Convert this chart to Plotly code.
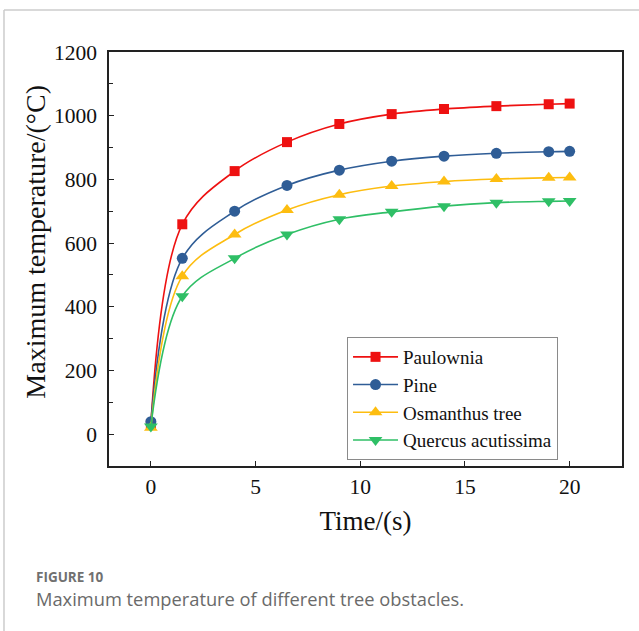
import plotly.graph_objects as go

# Sampling times (s)
time_s = [0, 1.5, 4, 6.5, 9, 11.5, 14, 16.5, 19, 20]

# Maximum temperature (°C) for each tree obstacle
paulownia = [30, 659, 826, 917, 974, 1005, 1021, 1030, 1036, 1038]
pine = [39, 552, 700, 781, 829, 857, 873, 882, 887, 888]
osmanthus = [20, 496, 627, 704, 752, 779, 793, 801, 805, 806]
quercus = [24, 433, 552, 627, 675, 698, 716, 727, 731, 732]

series = [
    ("Paulownia", paulownia, "#ee1111", "square", 10),
    ("Pine", pine, "#2f5d96", "circle", 11),
    ("Osmanthus tree", osmanthus, "#fdbd10", "triangle-up", 12),
    ("Quercus acutissima", quercus, "#2fbf66", "triangle-down", 12),
]

serif = "Liberation Serif, Times New Roman, serif"

fig = go.Figure()
for name, vals, color, symbol, msize in series:
    fig.add_trace(go.Scatter(
        x=time_s, y=vals, name=name, mode="lines+markers",
        line=dict(color=color, width=1.6, shape="spline", smoothing=1.0),
        marker=dict(symbol=symbol, size=msize, color=color),
    ))

axis_common = dict(
    showline=True, linecolor="#222", linewidth=1.6, mirror=True,
    ticks="inside", ticklen=5, tickwidth=1.4, tickcolor="#222",
    showgrid=False, zeroline=False,
    tickfont=dict(family=serif, size=21.5, color="#111"),
)

fig.update_xaxes(
    range=[-2, 22.5], tickvals=[0, 5, 10, 15, 20],
    title=dict(text="Time/(s)", font=dict(family=serif, size=27, color="#111"), standoff=14),
    **axis_common,
)
fig.update_yaxes(
    range=[-100, 1200], tickvals=[0, 200, 400, 600, 800, 1000, 1200],
    minor=dict(tick0=0, dtick=100, ticks="inside", ticklen=4,
               tickwidth=1.3, tickcolor="#222", showgrid=False),
    ticklabelstandoff=6,
    **axis_common,
)

# Frame lines around the figure panel and caption
border = dict(color="#cccccc", width=1.5)
fig.add_shape(type="line", xref="paper", yref="paper", x0=-0.2047, x1=1.04,
              y0=1.1014, y1=1.1014, line=border)
fig.add_shape(type="line", xref="paper", yref="paper", x0=-0.2047, x1=-0.2047,
              y0=1.1014, y1=-0.40, line=border)

fig.add_annotation(
    text="Maximum temperature/(°C)", textangle=-90, xref="paper", yref="paper",
    x=-0.145, y=0.541, xanchor="center", yanchor="middle", showarrow=False,
    font=dict(family=serif, size=28, color="#111"),
)
fig.add_annotation(
    text="<b>FIGURE 10</b>", xref="paper", yref="paper", x=-0.147, y=-0.268,
    xanchor="left", yanchor="middle", showarrow=False,
    font=dict(family="Open Sans, sans-serif", size=13.5, color="#707070"),
)
fig.add_annotation(
    text="Maximum temperature of different tree obstacles.", xref="paper", yref="paper",
    x=-0.147, y=-0.319, xanchor="left", yanchor="middle", showarrow=False,
    font=dict(family="Open Sans, sans-serif", size=18.3, color="#6a6a6a"),
)

fig.update_layout(
    width=639, height=631,
    margin=dict(l=109, r=17, t=52, b=165),
    paper_bgcolor="white", plot_bgcolor="white",
    showlegend=True,
    legend=dict(
        x=0.464, y=0.3116, xanchor="left", yanchor="top",
        bgcolor="white", bordercolor="#8a8a8a", borderwidth=1,
        font=dict(family=serif, size=19, color="#111"),
        itemwidth=45, tracegroupgap=0,
    ),
)

fig.write_html("out.html")
